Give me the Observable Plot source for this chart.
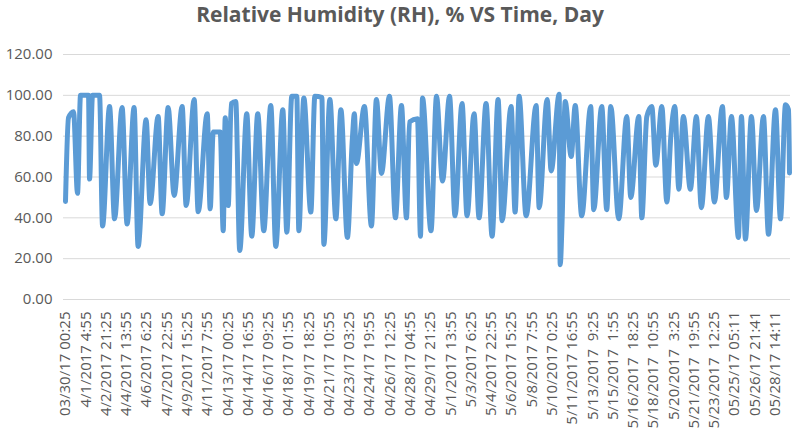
<!DOCTYPE html>
<html>
<head>
<meta charset="utf-8">
<script src="https://cdn.jsdelivr.net/npm/d3@7"></script>
<script src="https://cdn.jsdelivr.net/npm/@observablehq/plot@0.6"></script>
<style>
  html, body { margin: 0; padding: 0; background: #fff; }
  #title { height: 30px; line-height: 30px; text-align: center; font: bold 21px "Open Sans", sans-serif; color: #595959; }
  #chart svg { display: block; }
</style>
</head>
<body>
<div id="title">Relative Humidity (RH), % VS Time, Day</div>
<div id="chart"></div>
<script>
// Category labels on the time axis (one every 40.5 hours)
const tickLabels = [
  "03/30/17 00:25", "4/1/2017 4:55", "4/2/2017 21:25", "4/4/2017 13:55", "4/6/2017 6:25",
  "4/7/2017 22:55", "4/9/2017 15:25", "4/11/2017 7:55", "04/13/17 00:25", "04/14/17 16:55",
  "04/16/17 09:25", "04/18/17 01:55", "04/19/17 18:25", "04/21/17 10:55", "04/23/17 03:25",
  "04/24/17 19:55", "04/26/17 12:25", "04/28/17 04:55", "04/29/17 21:25", "5/1/2017 13:55",
  "5/3/2017 6:25", "5/4/2017 22:55", "5/6/2017 15:25", "5/8/2017 7:55", "5/10/2017 0:25",
  "5/11/2017 16:55", "5/13/2017  9:25", "5/15/2017  1:55", "5/16/2017  18:25", "5/18/2017  10:55",
  "5/20/2017  3:25", "5/21/2017  19:55", "5/23/2017  12:25", "05/25/17 05:11", "05/26/17 21:41",
  "05/28/17 14:11"
];
const tickStepHours = 40.5;

// Hours since 03/30/17 00:25
const hours = [
  0, 6, 16, 24, 30, 46, 48, 54, 68, 74, 88, 98, 113, 123, 137, 145, 161, 169, 185, 193,
  205, 217, 233, 241, 257, 265, 283, 289, 295, 309, 315, 319, 325, 331, 340, 348, 362, 372, 384, 396,
  410, 420, 434, 442, 452, 462, 466, 476, 490, 498, 512, 516, 528, 540, 550, 563, 573, 577, 581, 597,
  611, 621, 631, 647, 659, 671, 681, 687, 703, 709, 713, 730, 741, 753, 767, 778, 792, 802, 816, 826,
  840, 852, 864, 872, 890, 898, 906, 920, 940, 946, 962, 970, 986, 988, 992, 998, 1010, 1018, 1031, 1049,
  1055, 1071, 1081, 1089, 1105, 1121, 1129, 1145, 1151, 1161, 1171, 1179, 1191, 1201, 1209, 1217, 1225, 1234, 1248, 1260,
  1270, 1284, 1296, 1312, 1320, 1330, 1344, 1350, 1358, 1370, 1380, 1394, 1404, 1418, 1428, 1438, 1444, 1446
];
// Relative humidity, %
const rh = [
  48, 89, 92, 52, 100, 100, 59, 100, 100, 36, 94.5, 39.5, 94, 37, 94, 26, 88, 47, 89.6, 42,
  94, 51, 94.5, 46, 98, 43, 91, 44.4, 82, 82, 33.7, 89, 46, 96, 97, 24, 91, 31, 91, 33.7,
  95, 26, 93, 33, 99.5, 99.5, 33.7, 98.7, 42.8, 99.5, 99, 27, 98, 39.5, 93, 30.4, 79, 91, 66.6, 94.5,
  36, 98, 61.7, 99.5, 40, 95, 40, 87, 88.5, 31, 98.7, 33.7, 99.5, 58, 99.5, 41, 96, 41, 91, 40,
  96, 31, 98, 38.6, 94.5, 42.8, 99.5, 41, 95, 45, 98, 63, 100.5, 17, 40, 97, 70, 95, 41, 94.5,
  44, 94.5, 44, 94.5, 39.5, 89.6, 50, 89.6, 40, 89.6, 94.5, 65.8, 94.5, 47.7, 80, 94.5, 54, 89.6, 54, 89.6,
  45, 89.6, 47.7, 94.5, 50, 89.6, 30.4, 89.6, 29.6, 89.6, 43.6, 89.6, 32, 93, 39.5, 95.4, 93, 62
];
const yTicks = [0, 20, 40, 60, 80, 100, 120];

const data = hours.map((h, i) => ({h, v: rh[i]}));
const tickPositions = tickLabels.map((_, i) => i * tickStepHours);

const chart = Plot.plot({
  width: 800,
  height: 417,
  marginLeft: 63,
  marginRight: 10,
  marginTop: 24,
  marginBottom: 148,
  style: {fontFamily: "'Open Sans', sans-serif", fontSize: "15px", color: "#595959", background: "#fff"},
  x: {domain: [-4, 1448], label: null},
  y: {domain: [0, 120], label: null},
  marks: [
    Plot.ruleY(yTicks, {stroke: "#d9d9d9", strokeWidth: 1}),
    Plot.axisY(yTicks, {tickSize: 0, tickPadding: 11, tickFormat: d => d.toFixed(2), label: null, fill: "#595959"}),
    Plot.axisX(tickPositions, {tickSize: 0, tickPadding: 12, tickRotate: -90, label: null, fill: "#595959",
      tickFormat: (d, i) => tickLabels[i]}),
    Plot.line(data, {x: "h", y: "v", curve: "monotone-x", stroke: "#5B9BD5", strokeWidth: 5, strokeLinejoin: "round", strokeLinecap: "round"})
  ]
});
document.getElementById("chart").appendChild(chart);
</script>
</body>
</html>
